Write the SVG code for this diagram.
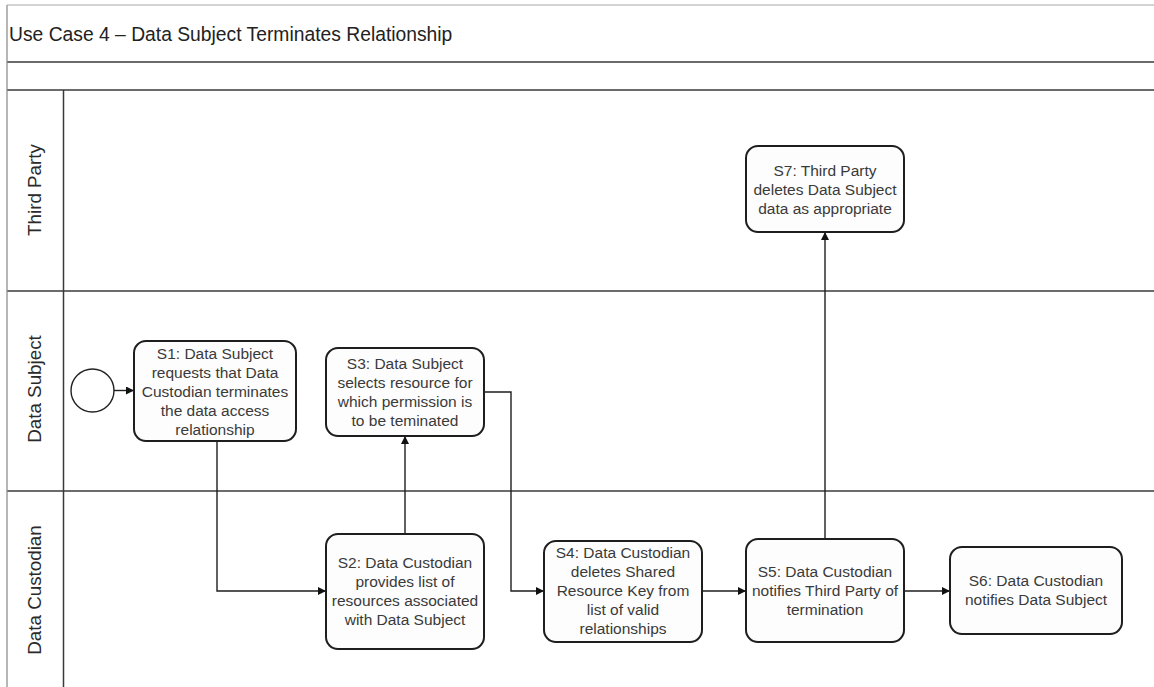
<svg xmlns="http://www.w3.org/2000/svg" width="1154" height="687" viewBox="0 0 1154 687">
<defs>
<style>
.frame{fill:none;stroke:#c4c4c4;stroke-width:1.5}
.lane{fill:none;stroke:#3a3a3a;stroke-width:1.5}
.box{fill:#fdfdfd;stroke:#1e1e1e;stroke-width:2}
.txt{font-family:"Liberation Sans",Arial,sans-serif;font-size:15.5px;fill:#3a3a3a;text-anchor:middle}
.lbl{font-family:"Liberation Sans",Arial,sans-serif;font-size:18.8px;fill:#2a2a2a;text-anchor:middle}
.title{font-family:"Liberation Sans",Arial,sans-serif;font-size:19.3px;fill:#222}
.con{fill:none;stroke:#1e1e1e;stroke-width:1.4}
</style>
<marker id="arr" viewBox="0 0 10 10" refX="10" refY="5" markerWidth="9" markerHeight="8" markerUnits="userSpaceOnUse" orient="auto">
<path d="M0,0 L10,5 L0,10 Z" fill="#111"/>
</marker>
</defs>
<rect width="1154" height="687" fill="#fff"/>
<g id="pool">
<line class="frame" x1="7" y1="5" x2="1154" y2="5"/>
<line class="frame" x1="7" y1="5" x2="7" y2="687"/>
<line class="lane" x1="7" y1="62" x2="1154" y2="62"/>
<line class="lane" x1="7" y1="90" x2="1154" y2="90"/>
<line class="lane" x1="7" y1="291" x2="1154" y2="291"/>
<line class="lane" x1="7" y1="491" x2="1154" y2="491"/>
<line class="lane" x1="63.5" y1="90" x2="63.5" y2="687"/>
<line x1="7" y1="5" x2="7" y2="687" stroke="#9a9a9a" stroke-width="1"/>
<text class="title" x="9" y="41">Use Case 4 – Data Subject Terminates Relationship</text>
<text class="lbl" transform="translate(41,190) rotate(-90)">Third Party</text>
<text class="lbl" transform="translate(41,389) rotate(-90)">Data Subject</text>
<text class="lbl" transform="translate(41,590) rotate(-90)">Data Custodian</text>
</g>
<g id="connectors">
<path class="con" d="M114,390.5 H134" marker-end="url(#arr)"/>
<path class="con" d="M217,441 V591 H326" marker-end="url(#arr)"/>
<path class="con" d="M405,534 V436" marker-end="url(#arr)"/>
<path class="con" d="M484,392 H511 V591 H544" marker-end="url(#arr)"/>
<path class="con" d="M702,591 H746" marker-end="url(#arr)"/>
<path class="con" d="M904,591 H950" marker-end="url(#arr)"/>
<path class="con" d="M825,539 V232" marker-end="url(#arr)"/>
</g>
<g id="start">
<circle cx="92.5" cy="390.5" r="21.5" fill="#fff" stroke="#222" stroke-width="1.4"/>
</g>
<g id="S1">
<rect class="box" x="134" y="341" width="162" height="100" rx="12"/>
<text class="txt" x="215" y="358.5"><tspan x="215">S1: Data Subject</tspan><tspan x="215" dy="19">requests that Data</tspan><tspan x="215" dy="19">Custodian terminates</tspan><tspan x="215" dy="19">the data access</tspan><tspan x="215" dy="19">relationship</tspan></text>
</g>
<g id="S2">
<rect class="box" x="326" y="534" width="158" height="115" rx="12"/>
<text class="txt" x="405" y="568"><tspan x="405">S2: Data Custodian</tspan><tspan x="405" dy="19">provides list of</tspan><tspan x="405" dy="19">resources associated</tspan><tspan x="405" dy="19">with Data Subject</tspan></text>
</g>
<g id="S3">
<rect class="box" x="326" y="348" width="158" height="88" rx="12"/>
<text class="txt" x="405" y="368.5"><tspan x="405">S3: Data Subject</tspan><tspan x="405" dy="19">selects resource for</tspan><tspan x="405" dy="19">which permission is</tspan><tspan x="405" dy="19">to be teminated</tspan></text>
</g>
<g id="S4">
<rect class="box" x="544" y="541" width="158" height="101" rx="12"/>
<text class="txt" x="623" y="557.5"><tspan x="623">S4: Data Custodian</tspan><tspan x="623" dy="19">deletes Shared</tspan><tspan x="623" dy="19">Resource Key from</tspan><tspan x="623" dy="19">list of valid</tspan><tspan x="623" dy="19">relationships</tspan></text>
</g>
<g id="S5">
<rect class="box" x="746" y="539" width="158" height="103" rx="12"/>
<text class="txt" x="825" y="576.5"><tspan x="825">S5: Data Custodian</tspan><tspan x="825" dy="19">notifies Third Party of</tspan><tspan x="825" dy="19">termination</tspan></text>
</g>
<g id="S6">
<rect class="box" x="950" y="547" width="172" height="87" rx="12"/>
<text class="txt" x="1036" y="585.5"><tspan x="1036">S6: Data Custodian</tspan><tspan x="1036" dy="19">notifies Data Subject</tspan></text>
</g>
<g id="S7">
<rect class="box" x="746" y="146" width="158" height="86" rx="12"/>
<text class="txt" x="825" y="175.5"><tspan x="825">S7: Third Party</tspan><tspan x="825" dy="19">deletes Data Subject</tspan><tspan x="825" dy="19">data as appropriate</tspan></text>
</g>
</svg>
